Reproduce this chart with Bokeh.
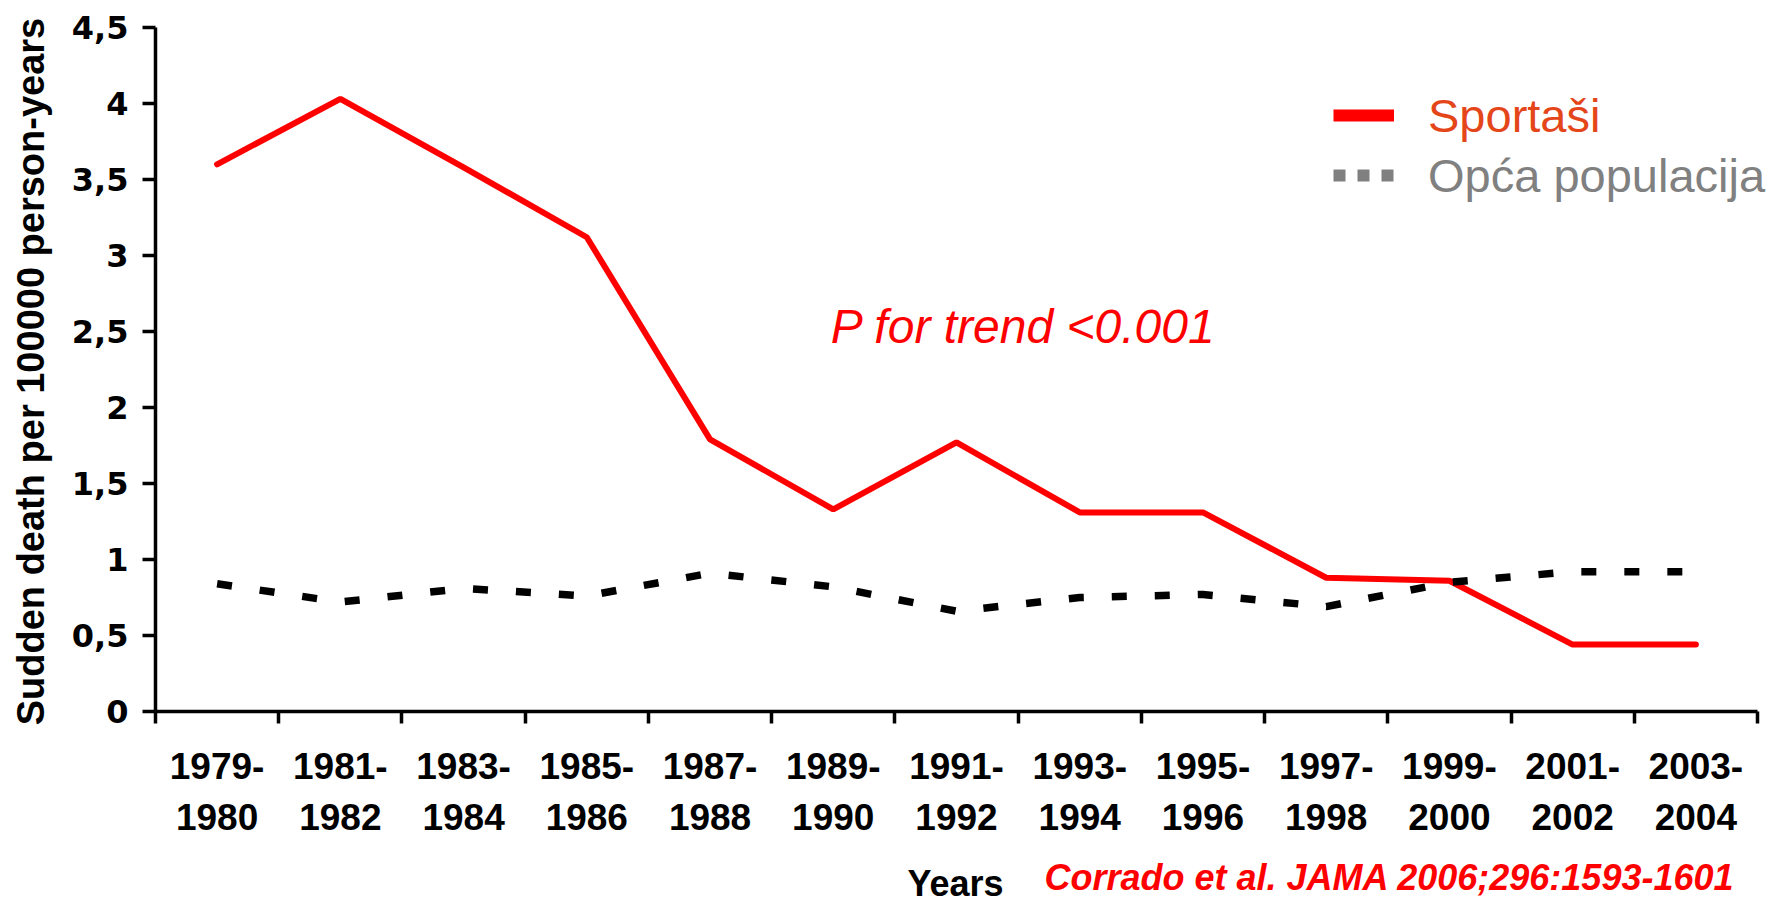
import math
from bokeh.plotting import figure
from bokeh.models import FixedTicker, Label, Legend, LegendItem, Range1d
from bokeh.embed import file_html
from bokeh.resources import INLINE

# ---- data ----
periods = ["1979-1980", "1981-1982", "1983-1984", "1985-1986", "1987-1988",
           "1989-1990", "1991-1992", "1993-1994", "1995-1996", "1997-1998",
           "1999-2000", "2001-2002", "2003-2004"]
athletes = [3.60, 4.03, 3.58, 3.12, 1.79, 1.33, 1.77, 1.31, 1.31, 0.88, 0.86, 0.44, 0.44]
general = [0.84, 0.72, 0.81, 0.76, 0.91, 0.82, 0.66, 0.75, 0.77, 0.69, 0.85, 0.92, 0.92]
y_ticks = [0, 0.5, 1, 1.5, 2, 2.5, 3, 3.5, 4, 4.5]
y_tick_labels = ["0", "0,5", "1", "1,5", "2", "2,5", "3", "3,5", "4", "4,5"]
series_names = ["Sportaši", "Opća populacija"]
y_title = "Sudden death per 100000 person-years"
x_title = "Years"
trend_note = "P for trend <0.001"
citation = "Corrado et al. JAMA 2006;296:1593-1601"

n = len(periods)
x_centers = [i + 0.5 for i in range(n)]
x_bounds = list(range(n + 1))
y_max = y_ticks[-1]

FONT = "Liberation Sans"

# ---- layout: the plot frame fills the canvas; axes sit at x = 0 and y = 0 ----
W, H = 1775, 903
AX_LEFT, AX_RIGHT = 155, 1757     # pixel columns of x = 0 and x = n
AX_TOP, AX_ZERO = 27, 711         # pixel rows of y = y_max and y = 0
ux = n / (AX_RIGHT - AX_LEFT)
uy = y_max / (AX_ZERO - AX_TOP)
x_range = Range1d(-AX_LEFT * ux, n + (W - AX_RIGHT) * ux)
y_range = Range1d(-(H - AX_ZERO) * uy, y_max + AX_TOP * uy)

p = figure(width=W, height=H, x_range=x_range, y_range=y_range,
           output_backend="svg", toolbar_location=None,
           min_border_left=0, min_border_right=0, min_border_top=0, min_border_bottom=0)
p.outline_line_color = None
p.xgrid.visible = False
p.ygrid.visible = False
p.background_fill_color = "white"
p.border_fill_color = "white"

# x axis at y = 0: labels at centres, ticks at period boundaries (minor ticks)
xa = p.xaxis[0]
xa.fixed_location = 0
xa.bounds = (0, n)
xa.ticker = FixedTicker(ticks=x_centers, minor_ticks=x_bounds)
xa.major_label_overrides = {c: lab.replace("-", "-\n") for c, lab in zip(x_centers, periods)}
xa.major_tick_out = 0
xa.major_tick_in = 0
xa.minor_tick_out = 12
xa.minor_tick_in = 0
xa.minor_tick_line_width = 3.5
xa.minor_tick_line_color = "black"
xa.axis_line_width = 3.5
xa.axis_line_color = "black"
xa.major_label_text_font = FONT
xa.major_label_text_font_style = "bold"
xa.major_label_text_font_size = "37px"
xa.major_label_text_color = "black"
xa.major_label_text_line_height = 1.25
xa.major_label_standoff = 22

# y axis at x = 0
ya = p.yaxis[0]
ya.fixed_location = 0
ya.bounds = (0, y_max)
ya.ticker = FixedTicker(ticks=y_ticks, minor_ticks=[])
ya.major_label_overrides = {t: lab for t, lab in zip(y_ticks, y_tick_labels)}
ya.major_tick_out = 13
ya.major_tick_in = 0
ya.major_tick_line_width = 3.5
ya.major_tick_line_color = "black"
ya.axis_line_width = 3.5
ya.axis_line_color = "black"
ya.major_label_text_font = "DejaVu Sans"
ya.major_label_text_font_style = "bold"
ya.major_label_text_font_size = "32px"
ya.major_label_text_color = "black"
ya.major_label_standoff = 14

# series
p.line(x_centers, athletes, line_color="#FF0000", line_width=6, line_cap="round")
p.line(x_centers, general, line_color="black", line_width=7.5, line_dash="15 28")

# legend swatches: single-point lines (draw nothing in the plot, only in the legend)
r1 = p.line(x=x_centers[:1], y=athletes[:1], line_color="#FF0000", line_width=12)
r2 = p.line(x=x_centers[:1], y=general[:1], line_color="#808080", line_width=12, line_dash="12 12")
common = dict(glyph_width=61, glyph_height=60, label_height=60, label_standoff=34,
              padding=0, margin=0, spacing=0, border_line_color=None,
              background_fill_alpha=0, label_text_font=FONT, label_text_font_size="47px")
leg1 = Legend(items=[LegendItem(label=series_names[0], renderers=[r1])],
              location=(1333, 758), label_text_color="#E4461A", **common)
leg2 = Legend(items=[LegendItem(label=series_names[1], renderers=[r2])],
              location=(1333, 698), label_text_color="#808080", **common)
p.add_layout(leg1)
p.add_layout(leg2)

# texts
p.add_layout(Label(x=30, y=532, x_units="screen", y_units="screen", text=y_title,
                   angle=math.pi / 2, text_font=FONT, text_font_style="bold",
                   text_font_size="38px", text_color="black", text_align="center",
                   text_baseline="alphabetic"))
p.add_layout(Label(x=5.48, y=2.53, text=trend_note, text_font=FONT, text_font_style="italic",
                   text_font_size="48px", text_color="#FF0000", text_baseline="alphabetic"))
p.add_layout(Label(x=955, y=20, x_units="screen", y_units="screen", text=x_title,
                   text_font=FONT, text_font_style="bold", text_font_size="36px",
                   text_color="black", text_align="center", text_baseline="alphabetic"))
p.add_layout(Label(x=1044, y=26, x_units="screen", y_units="screen", text=citation,
                   text_font=FONT, text_font_style="bold italic", text_font_size="36px",
                   text_color="#FF0000", text_baseline="alphabetic"))

open("out.html", "w").write(file_html(p, INLINE))
